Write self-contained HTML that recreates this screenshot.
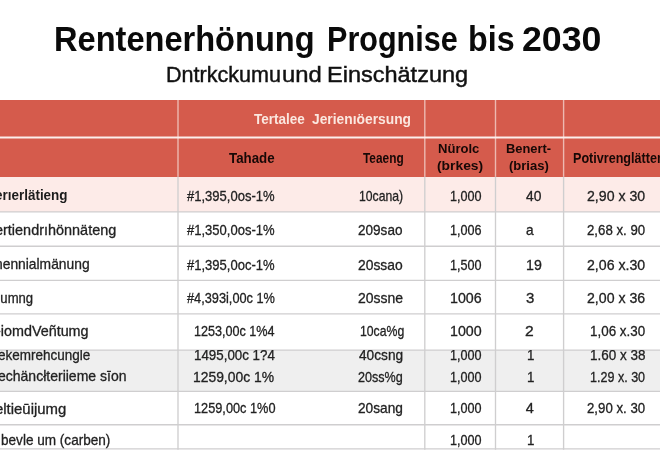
<!DOCTYPE html>
<html lang="de">
<head>
<meta charset="utf-8">
<title>Rentenerhönung Prognise bis 2030</title>
<style>
html,body{margin:0;padding:0;}
body{width:660px;height:470px;overflow:hidden;background:#fff;position:relative;font-family:"Liberation Sans",sans-serif;color:#2b2b2b;}
#title{position:absolute;left:0;top:22.2px;font-weight:bold;font-size:34.2px;color:#0a0a0a;white-space:nowrap;line-height:1;}
#title .w{position:absolute;top:0;display:block;transform-origin:0 0;}
#sub{position:absolute;left:0;top:63.4px;font-size:22.8px;color:#111;-webkit-text-stroke:0.45px #111;white-space:nowrap;line-height:1;}
#sub .w{position:absolute;top:0;display:block;transform-origin:0 0;}
.box{position:absolute;}
.t{position:absolute;display:block;white-space:nowrap;line-height:1;transform-origin:0 0;}
#clip{position:absolute;left:0;top:350px;width:660px;height:41px;overflow:hidden;}
</style>
</head>
<body>
<div id="title"><span class="w" style="left:54px;transform:scaleX(0.953)">Rentenerhönung</span> <span class="w" style="left:327px;transform:scaleX(0.894)">Prognise</span> <span class="w" style="left:468px;transform:scaleX(0.943)">bis</span> <span class="w" style="left:521.8px;transform:scaleX(1.045)">2030</span></div>
<div id="sub"><span class="w" style="left:166px;transform:scaleX(0.945)">Dntrkckumu</span> <span class="w" style="left:282px;transform:scaleX(1.045)">und</span> <span class="w" style="left:326.5px;transform:scaleX(1.031)">Einschätzung</span></div>

<!-- header -->
<div class="box" style="left:0;top:100px;width:660px;height:76.5px;background:#d55b4c;"></div>
<!-- row backgrounds -->
<div class="box" style="left:0;top:176.5px;width:660px;height:35.5px;background:#fdebe8;"></div>
<div class="box" style="left:0;top:350px;width:660px;height:41px;background:#efefef;"></div>

<!-- grid lines -->
<svg width="660" height="470" viewBox="0 0 660 470" style="position:absolute;left:0;top:0;">
<g stroke="#edb9b1" stroke-width="1.4">
<line x1="178" y1="100" x2="178" y2="176.5"/>
<line x1="424.8" y1="100" x2="424.8" y2="176.5"/>
<line x1="495.5" y1="100" x2="495.5" y2="176.5"/>
<line x1="563.6" y1="100" x2="563.6" y2="176.5"/>
</g>
<line x1="0" y1="137.5" x2="660" y2="137.5" stroke="#fcefec" stroke-width="2.2"/>
<g stroke="#cfcecf" stroke-width="1.35">
<line x1="0" y1="211.8" x2="660" y2="211.8"/>
<line x1="0" y1="246.2" x2="660" y2="246.2"/>
<line x1="0" y1="280.3" x2="660" y2="280.3"/>
<line x1="0" y1="313.8" x2="660" y2="313.8"/>
<line x1="0" y1="350.1" x2="660" y2="350.1"/>
<line x1="0" y1="391.3" x2="660" y2="391.3"/>
<line x1="0" y1="424.7" x2="660" y2="424.7"/>
<line x1="0" y1="448.9" x2="660" y2="448.9"/>
<line x1="178" y1="176.5" x2="178" y2="449.7"/>
<line x1="424.8" y1="176.5" x2="424.8" y2="449.7"/>
<line x1="495.5" y1="176.5" x2="495.5" y2="449.7"/>
<line x1="563.6" y1="176.5" x2="563.6" y2="449.7"/>
</g>
</svg>

<div class="t" style="left:254.0px;top:110.5px;font-size:15px;font-weight:bold;color:#fbe7df;transform:scaleX(0.900);">Tertalee</div>
<div class="t" style="left:311.8px;top:110.5px;font-size:15px;font-weight:bold;color:#fbe7df;transform:scaleX(0.921);">Jerienıöersung</div>
<div class="t" style="left:228.6px;top:150.5px;font-size:14px;font-weight:bold;color:#170806;transform:scaleX(0.950);">Tahade</div>
<div class="t" style="left:362.8px;top:150.8px;font-size:14px;font-weight:bold;color:#170806;transform:scaleX(0.847);">Teaeng</div>
<div class="t" style="left:438.4px;top:142.3px;font-size:13.5px;font-weight:bold;color:#170806;transform:scaleX(0.968);">Nürolc</div>
<div class="t" style="left:437.2px;top:158.6px;font-size:13.5px;font-weight:bold;color:#170806;transform:scaleX(1.026);">(brkes)</div>
<div class="t" style="left:506.3px;top:142.3px;font-size:13.5px;font-weight:bold;color:#170806;transform:scaleX(0.954);">Benert-</div>
<div class="t" style="left:508.9px;top:158.6px;font-size:13.5px;font-weight:bold;color:#170806;transform:scaleX(0.965);">(brias)</div>
<div class="t" style="left:572.7px;top:150.8px;font-size:14px;font-weight:bold;color:#170806;transform:scaleX(0.899);">Potivrenglätten</div>
<div class="t" style="left:-5.1px;top:188.1px;font-size:14.5px;font-weight:bold;color:#1c1c1c;transform:scaleX(0.928);">erıerlätieng</div>
<div class="t" style="left:-5.0px;top:223.1px;font-size:14.5px;-webkit-text-stroke:0.3px #222222;color:#222222;transform:scaleX(0.996);">ertiendrıhönnäteng</div>
<div class="t" style="left:-5.5px;top:257.3px;font-size:14.5px;-webkit-text-stroke:0.3px #222222;color:#222222;transform:scaleX(0.954);">nennialmänung</div>
<div class="t" style="left:-4.4px;top:290.5px;font-size:14.5px;-webkit-text-stroke:0.3px #222222;color:#222222;transform:scaleX(0.903);">-umng</div>
<div class="t" style="left:-4.0px;top:323.8px;font-size:14.5px;-webkit-text-stroke:0.3px #222222;color:#222222;transform:scaleX(0.990);">-iomdVeñtumg</div>
<div class="t" style="left:-1.8px;top:368.9px;font-size:14.5px;-webkit-text-stroke:0.3px #222222;color:#222222;transform:scaleX(0.966);">echäncłteriieme sīon</div>
<div class="t" style="left:-5.0px;top:401.9px;font-size:14.5px;-webkit-text-stroke:0.3px #222222;color:#222222;transform:scaleX(1.028);">eltieūijumg</div>
<div class="t" style="left:0.6px;top:433.2px;font-size:14.5px;-webkit-text-stroke:0.3px #222222;color:#222222;transform:scaleX(0.936);">bevle um (carben)</div>
<div class="t" style="left:186.7px;top:189.2px;font-size:14.5px;-webkit-text-stroke:0.3px #222222;color:#222222;transform:scaleX(0.898);">#1,395,0os-1%</div>
<div class="t" style="left:186.7px;top:223.2px;font-size:14.5px;-webkit-text-stroke:0.3px #222222;color:#222222;transform:scaleX(0.898);">#1,350,0os-1%</div>
<div class="t" style="left:186.7px;top:257.8px;font-size:14.5px;-webkit-text-stroke:0.3px #222222;color:#222222;transform:scaleX(0.898);">#1,395,0oc-1%</div>
<div class="t" style="left:186.7px;top:290.9px;font-size:14.5px;-webkit-text-stroke:0.3px #222222;color:#222222;transform:scaleX(0.880);">#4,393i,00c 1%</div>
<div class="t" style="left:193.5px;top:323.7px;font-size:14.5px;-webkit-text-stroke:0.3px #222222;color:#222222;transform:scaleX(0.869);">1253,00c 1%4</div>
<div class="t" style="left:193.4px;top:369.5px;font-size:14.5px;-webkit-text-stroke:0.3px #222222;color:#222222;transform:scaleX(0.957);">1259,00c 1%</div>
<div class="t" style="left:193.5px;top:401.4px;font-size:14.5px;-webkit-text-stroke:0.3px #222222;color:#222222;transform:scaleX(0.879);">1259,00c 1%0</div>
<div class="t" style="left:359.1px;top:189.2px;font-size:14.5px;-webkit-text-stroke:0.3px #222222;color:#222222;transform:scaleX(0.842);">10cana)</div>
<div class="t" style="left:358.4px;top:223.2px;font-size:14.5px;-webkit-text-stroke:0.3px #222222;color:#222222;transform:scaleX(0.935);">209sao</div>
<div class="t" style="left:358.3px;top:257.8px;font-size:14.5px;-webkit-text-stroke:0.3px #222222;color:#222222;transform:scaleX(0.956);">20ssao</div>
<div class="t" style="left:358.3px;top:290.9px;font-size:14.5px;-webkit-text-stroke:0.3px #222222;color:#222222;transform:scaleX(0.964);">20ssne</div>
<div class="t" style="left:359.7px;top:323.7px;font-size:14.5px;-webkit-text-stroke:0.3px #222222;color:#222222;transform:scaleX(0.844);">10ca%g</div>
<div class="t" style="left:358.4px;top:369.5px;font-size:14.5px;-webkit-text-stroke:0.3px #222222;color:#222222;transform:scaleX(0.868);">20ss%g</div>
<div class="t" style="left:358.4px;top:401.4px;font-size:14.5px;-webkit-text-stroke:0.3px #222222;color:#222222;transform:scaleX(0.943);">20sang</div>
<div class="t" style="left:450.4px;top:189.2px;font-size:14.5px;-webkit-text-stroke:0.3px #222222;color:#222222;transform:scaleX(0.869);">1,000</div>
<div class="t" style="left:450.4px;top:223.2px;font-size:14.5px;-webkit-text-stroke:0.3px #222222;color:#222222;transform:scaleX(0.869);">1,006</div>
<div class="t" style="left:450.4px;top:257.8px;font-size:14.5px;-webkit-text-stroke:0.3px #222222;color:#222222;transform:scaleX(0.869);">1,500</div>
<div class="t" style="left:450.3px;top:290.9px;font-size:14.5px;-webkit-text-stroke:0.3px #222222;color:#222222;transform:scaleX(0.981);">1006</div>
<div class="t" style="left:450.3px;top:323.7px;font-size:14.5px;-webkit-text-stroke:0.3px #222222;color:#222222;transform:scaleX(0.981);">1000</div>
<div class="t" style="left:450.4px;top:369.5px;font-size:14.5px;-webkit-text-stroke:0.3px #222222;color:#222222;transform:scaleX(0.869);">1,000</div>
<div class="t" style="left:450.4px;top:401.4px;font-size:14.5px;-webkit-text-stroke:0.3px #222222;color:#222222;transform:scaleX(0.869);">1,000</div>
<div class="t" style="left:450.4px;top:433.2px;font-size:14.5px;-webkit-text-stroke:0.3px #222222;color:#222222;transform:scaleX(0.869);">1,000</div>
<div class="t" style="left:526.3px;top:189.2px;font-size:14.5px;-webkit-text-stroke:0.3px #222222;color:#222222;transform:scaleX(0.953);">40</div>
<div class="t" style="left:525.6px;top:223.2px;font-size:14.5px;-webkit-text-stroke:0.3px #222222;color:#222222;transform:scaleX(0.943);">a</div>
<div class="t" style="left:525.9px;top:257.8px;font-size:14.5px;-webkit-text-stroke:0.3px #222222;color:#222222;transform:scaleX(0.979);">19</div>
<div class="t" style="left:525.9px;top:290.9px;font-size:14.5px;-webkit-text-stroke:0.3px #222222;color:#222222;transform:scaleX(1.033);">3</div>
<div class="t" style="left:525.1px;top:323.9px;font-size:14.5px;-webkit-text-stroke:0.3px #222222;color:#222222;transform:scaleX(1.080);">2</div>
<div class="t" style="left:526.5px;top:369.9px;font-size:14.5px;-webkit-text-stroke:0.3px #222222;color:#222222;transform:scaleX(0.920);">1</div>
<div class="t" style="left:525.7px;top:401.4px;font-size:14.5px;-webkit-text-stroke:0.3px #222222;color:#222222;transform:scaleX(1.000);">4</div>
<div class="t" style="left:526.5px;top:433.2px;font-size:14.5px;-webkit-text-stroke:0.3px #222222;color:#222222;transform:scaleX(0.920);">1</div>
<div class="t" style="left:586.7px;top:189.2px;font-size:14.5px;-webkit-text-stroke:0.3px #222222;color:#222222;transform:scaleX(0.976);">2,90 x 30</div>
<div class="t" style="left:586.8px;top:223.2px;font-size:14.5px;-webkit-text-stroke:0.3px #222222;color:#222222;transform:scaleX(0.913);">2,68 x. 90</div>
<div class="t" style="left:586.7px;top:257.8px;font-size:14.5px;-webkit-text-stroke:0.3px #222222;color:#222222;transform:scaleX(0.976);">2,06 x.30</div>
<div class="t" style="left:586.7px;top:290.9px;font-size:14.5px;-webkit-text-stroke:0.3px #222222;color:#222222;transform:scaleX(0.976);">2,00 x 36</div>
<div class="t" style="left:589.8px;top:323.7px;font-size:14.5px;-webkit-text-stroke:0.3px #222222;color:#222222;transform:scaleX(0.924);">1,06 x.30</div>
<div class="t" style="left:589.8px;top:369.5px;font-size:14.5px;-webkit-text-stroke:0.3px #222222;color:#222222;transform:scaleX(0.865);">1.29 x. 30</div>
<div class="t" style="left:586.8px;top:401.4px;font-size:14.5px;-webkit-text-stroke:0.3px #222222;color:#222222;transform:scaleX(0.913);">2,90 x. 30</div>
<div id="clip">
<div class="t" style="left:-1.7px;top:-2.3px;font-size:14.5px;-webkit-text-stroke:0.3px #222222;color:#222222;transform:scaleX(0.930);">ekemrehcungle</div>
<div class="t" style="left:193.5px;top:-2.3px;font-size:14.5px;-webkit-text-stroke:0.3px #222222;color:#222222;transform:scaleX(0.920);">1495,00c 1?4</div>
<div class="t" style="left:359.3px;top:-2.3px;font-size:14.5px;-webkit-text-stroke:0.3px #222222;color:#222222;transform:scaleX(0.943);">40csng</div>
<div class="t" style="left:450.4px;top:-2.3px;font-size:14.5px;-webkit-text-stroke:0.3px #222222;color:#222222;transform:scaleX(0.869);">1,000</div>
<div class="t" style="left:526.5px;top:-2.5px;font-size:14.5px;-webkit-text-stroke:0.3px #222222;color:#222222;transform:scaleX(0.920);">1</div>
<div class="t" style="left:589.8px;top:-2.3px;font-size:14.5px;-webkit-text-stroke:0.3px #222222;color:#222222;transform:scaleX(0.929);">1.60 x 38</div>
</div>
</body>
</html>
